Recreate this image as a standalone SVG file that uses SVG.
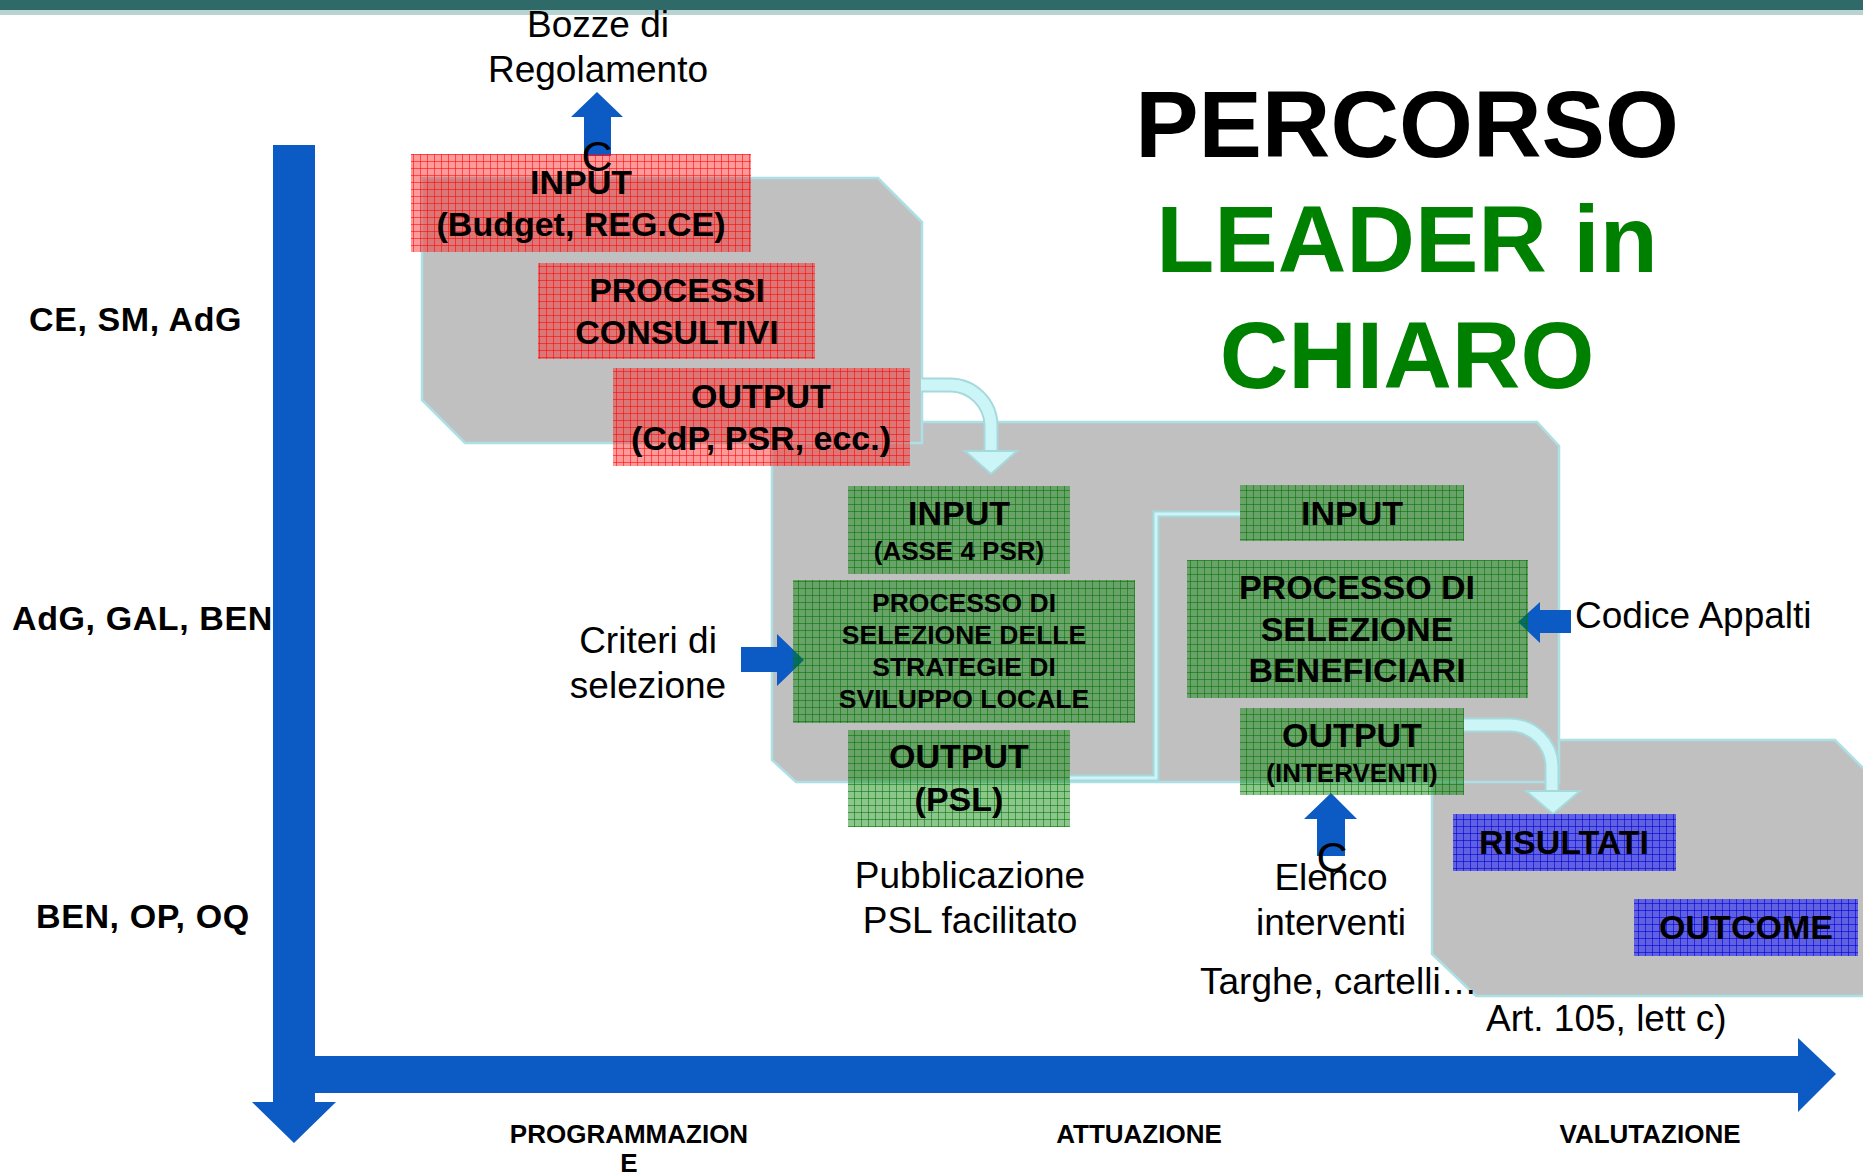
<svg xmlns="http://www.w3.org/2000/svg" width="1863" height="1176" viewBox="0 0 1863 1176">
<defs>
  <pattern id="pRed" width="7" height="7" patternUnits="userSpaceOnUse">
    <rect width="7" height="7" fill="#ff1a1a" fill-opacity="0.44"/>
    <path d="M0 0.5H7M0.5 0V7" stroke="#ff0000" stroke-opacity="0.55" stroke-width="1"/>
  </pattern>
  <pattern id="pGreen" width="7" height="7" patternUnits="userSpaceOnUse">
    <rect width="7" height="7" fill="#008000" fill-opacity="0.45"/>
    <path d="M0 0.5H7M0.5 0V7" stroke="#007000" stroke-opacity="0.55" stroke-width="1"/>
  </pattern>
  <pattern id="pBlue" width="7" height="7" patternUnits="userSpaceOnUse">
    <rect width="7" height="7" fill="#1010ff" fill-opacity="0.55"/>
    <path d="M0 0.5H7M0.5 0V7" stroke="#0000d0" stroke-opacity="0.6" stroke-width="1"/>
  </pattern>
</defs>
<style>
  .stage { fill: #c0c0c0; stroke: #ade0e4; stroke-width: 2.5; }
  .red { fill: url(#pRed); }
  .green { fill: url(#pGreen); }
  .blue { fill: url(#pBlue); }
  .bt { font-family: "Liberation Sans", Arial, sans-serif; font-weight: bold; fill: #000; text-anchor: middle; }
  .b34 { font-size: 34px; }
  .b26 { font-size: 26px; }
  .b27 { font-size: 26.5px; }
  .lbl { font-family: "Liberation Sans", Arial, sans-serif; font-size: 37px; fill: #000; }
  .mid { text-anchor: middle; }
  .side { font-family: "Liberation Sans", Arial, sans-serif; font-weight: bold; font-size: 34px; letter-spacing: 0.6px; fill: #000; }
  .axis { font-family: "Liberation Sans", Arial, sans-serif; font-weight: bold; font-size: 26px; fill: #000; text-anchor: middle; }
  .title { font-family: "Liberation Sans", Arial, sans-serif; font-weight: bold; font-size: 95px; text-anchor: middle; }
  .barrow { fill: #0c5ac4; }
  .cyanOut { fill: none; stroke: #a6d9dc; }
  .cyanIn { fill: none; stroke: #cbf5f7; }
  .cyanHead { fill: #cbf5f7; stroke: #a6d9dc; stroke-width: 2; }
  .bigC { font-family: "Liberation Sans", Arial, sans-serif; font-size: 43px; fill: #000; text-anchor: middle; }
</style>

<rect x="0" y="0" width="1863" height="1176" fill="#ffffff"/>
<!-- top bar -->
<rect x="0" y="0" width="1863" height="10" fill="#2f6a68"/>
<rect x="0" y="10" width="1863" height="5" fill="#b9d3d1"/>

<!-- stage backgrounds -->
<g id="stage-valutazione">
  <polygon class="stage" points="1432,740 1835,740 1866,771 1866,996 1476,996 1432,954"/>
</g>
<g id="stage-attuazione">
  <polygon class="stage" points="772,422 1537,422 1559,446 1559,782 796,782 772,760"/>
</g>
<g id="stage-programmazione">
  <polygon class="stage" points="422,178 878,178 922,222 922,443 465,443 422,400"/>
</g>

<!-- axes -->
<g id="axes">
  <polygon class="barrow" points="273,145 315,145 315,1102 336,1102 294,1143 252,1102 273,1102"/>
  <rect class="barrow" x="300" y="1056" width="1498" height="37"/>
  <polygon class="barrow" points="1798,1038 1836,1074 1798,1112"/>
</g>

<!-- connectors -->
<g id="connectors">
  <path class="cyanOut" stroke-width="15" d="M 922 385 H 950 A 41 41 0 0 1 991 426 V 453"/>
  <path class="cyanIn" stroke-width="11" d="M 921 385 H 950 A 41 41 0 0 1 991 426 V 454"/>
  <polygon class="cyanHead" points="965,451 1017,451 991,474"/>

  <path class="cyanOut" stroke-width="7" d="M 1069 778 H 1156 V 514 H 1240"/>
  <path class="cyanIn" stroke-width="3" d="M 1069 778 H 1156 V 514 H 1240"/>

  <path class="cyanOut" stroke-width="15" d="M 1464 725 H 1510 A 42 42 0 0 1 1552 767 V 793"/>
  <path class="cyanIn" stroke-width="11" d="M 1463 725 H 1510 A 42 42 0 0 1 1552 767 V 794"/>
  <polygon class="cyanHead" points="1526,791 1580,791 1553,814"/>

  <!-- blue block arrows -->
  <polygon class="barrow" points="584,156 584,117 571,117 597,92 623,117 611,117 611,156"/>
  <polygon class="barrow" points="741,647 777,647 777,634 804,660 777,686 777,672 741,672"/>
  <polygon class="barrow" points="1571,610 1540,610 1540,602 1518,622 1540,643 1540,633 1571,633"/>
  <polygon class="barrow" points="1317,856 1317,819 1304,819 1331,793 1357,819 1345,819 1345,856"/>
</g>

<!-- programmazione nodes -->
<g id="node-input-budget">
  <rect class="red" x="411" y="154" width="340" height="98"/>
  <text class="bt b34" x="581" y="194">INPUT</text>
  <text class="bt b34" x="581" y="236">(Budget, REG.CE)</text>
</g>
<g id="node-processi-consultivi">
  <rect class="red" x="538" y="263" width="277" height="96"/>
  <text class="bt b34" x="677" y="302">PROCESSI</text>
  <text class="bt b34" x="677" y="344">CONSULTIVI</text>
</g>
<g id="node-output-cdp">
  <rect class="red" x="613" y="368" width="297" height="98"/>
  <text class="bt b34" x="761" y="408">OUTPUT</text>
  <text class="bt b34" x="761" y="450">(CdP, PSR, ecc.)</text>
</g>

<!-- attuazione nodes (GAL) -->
<g id="node-input-asse4">
  <rect class="green" x="848" y="486" width="222" height="88"/>
  <text class="bt b34" x="959" y="525">INPUT</text>
  <text class="bt b26" x="959" y="560">(ASSE 4 PSR)</text>
</g>
<g id="node-processo-ssl">
  <rect class="green" x="793" y="580" width="342" height="143"/>
  <text class="bt b27" x="964" y="612">PROCESSO DI</text>
  <text class="bt b27" x="964" y="644">SELEZIONE DELLE</text>
  <text class="bt b27" x="964" y="676">STRATEGIE DI</text>
  <text class="bt b27" x="964" y="708">SVILUPPO LOCALE</text>
</g>
<g id="node-output-psl">
  <rect class="green" x="848" y="730" width="222" height="97"/>
  <text class="bt b34" x="959" y="768">OUTPUT</text>
  <text class="bt b34" x="959" y="811">(PSL)</text>
</g>

<!-- attuazione nodes (beneficiari) -->
<g id="node-input-ben">
  <rect class="green" x="1240" y="485" width="224" height="56"/>
  <text class="bt b34" x="1352" y="525">INPUT</text>
</g>
<g id="node-processo-ben">
  <rect class="green" x="1187" y="560" width="341" height="138"/>
  <text class="bt b34" x="1357" y="599">PROCESSO DI</text>
  <text class="bt b34" x="1357" y="641">SELEZIONE</text>
  <text class="bt b34" x="1357" y="682">BENEFICIARI</text>
</g>
<g id="node-output-interventi">
  <rect class="green" x="1240" y="708" width="224" height="87"/>
  <text class="bt b34" x="1352" y="747">OUTPUT</text>
  <text class="bt b26" x="1352" y="782">(INTERVENTI)</text>
</g>

<!-- valutazione nodes -->
<g id="node-risultati">
  <rect class="blue" x="1453" y="814" width="223" height="57"/>
  <text class="bt b34" x="1564" y="854">RISULTATI</text>
</g>
<g id="node-outcome">
  <rect class="blue" x="1634" y="899" width="224" height="57"/>
  <text class="bt b34" x="1746" y="939">OUTCOME</text>
</g>

<!-- title -->
<g id="title">
  <text class="title" x="1407" y="157" fill="#000000">PERCORSO</text>
  <text class="title" x="1407" y="272" fill="#008000">LEADER in</text>
  <text class="title" x="1407" y="388" fill="#008000">CHIARO</text>
</g>

<!-- actor labels -->
<g id="actors">
  <text class="side" x="29" y="331">CE, SM, AdG</text>
  <text class="side" x="12" y="630">AdG, GAL, BEN</text>
  <text class="side" x="36" y="928">BEN, OP, OQ</text>
</g>

<!-- phase labels -->
<g id="phases">
  <text class="axis" x="629" y="1143">PROGRAMMAZION</text>
  <text class="axis" x="629" y="1172">E</text>
  <text class="axis" x="1139" y="1143">ATTUAZIONE</text>
  <text class="axis" x="1650" y="1143">VALUTAZIONE</text>
</g>

<!-- free labels -->
<g id="notes">
  <text class="lbl mid" x="598" y="37">Bozze di</text>
  <text class="lbl mid" x="598" y="82">Regolamento</text>
  <text class="lbl mid" x="648" y="653">Criteri di</text>
  <text class="lbl mid" x="648" y="698">selezione</text>
  <text class="lbl" x="1575" y="628">Codice Appalti</text>
  <text class="lbl mid" x="970" y="888">Pubblicazione</text>
  <text class="lbl mid" x="970" y="933">PSL facilitato</text>
  <text class="lbl mid" x="1331" y="890">Elenco</text>
  <text class="lbl mid" x="1331" y="935">interventi</text>
  <text class="lbl" x="1200" y="994">Targhe, cartelli…</text>
  <text class="lbl" x="1486" y="1031">Art. 105, lett c)</text>
  <text class="bigC" x="597" y="171">C</text>
  <text class="bigC" x="1332" y="872">C</text>
</g>
</svg>
